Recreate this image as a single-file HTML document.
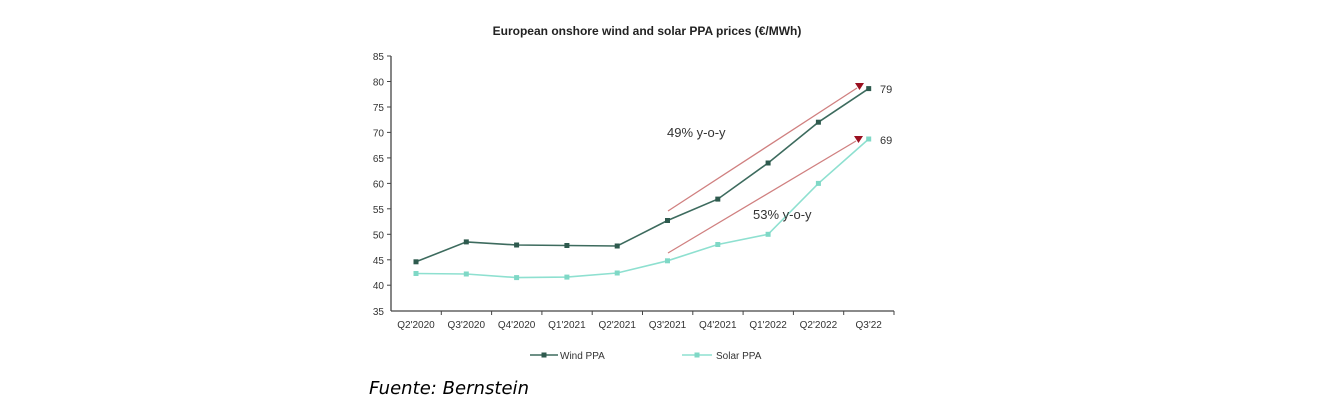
<!DOCTYPE html>
<html><head><meta charset="utf-8"><style>body{margin:0;background:#fff}svg{display:block}</style></head>
<body>
<svg width="1333" height="406" xmlns="http://www.w3.org/2000/svg" font-family="Liberation Sans, Arial, sans-serif">
<text x="647" y="35" text-anchor="middle" font-size="12" font-weight="bold" fill="#222">European onshore wind and solar PPA prices (€/MWh)</text>
<g stroke="#444" stroke-width="1.3" fill="none">
<line x1="391" y1="56" x2="391" y2="311"/>
<line x1="391" y1="311" x2="894" y2="311"/>
</g>
<g stroke="#444" stroke-width="1">
<line x1="387" y1="56" x2="391" y2="56"/><line x1="387" y1="81.5" x2="391" y2="81.5"/><line x1="387" y1="107" x2="391" y2="107"/><line x1="387" y1="132.4" x2="391" y2="132.4"/><line x1="387" y1="157.9" x2="391" y2="157.9"/><line x1="387" y1="183.4" x2="391" y2="183.4"/><line x1="387" y1="208.8" x2="391" y2="208.8"/><line x1="387" y1="234.3" x2="391" y2="234.3"/><line x1="387" y1="259.8" x2="391" y2="259.8"/><line x1="387" y1="285.2" x2="391" y2="285.2"/>
<line x1="441.3" y1="311" x2="441.3" y2="315"/><line x1="491.6" y1="311" x2="491.6" y2="315"/><line x1="541.9" y1="311" x2="541.9" y2="315"/><line x1="592.2" y1="311" x2="592.2" y2="315"/><line x1="642.5" y1="311" x2="642.5" y2="315"/><line x1="692.8" y1="311" x2="692.8" y2="315"/><line x1="743.1" y1="311" x2="743.1" y2="315"/><line x1="793.4" y1="311" x2="793.4" y2="315"/><line x1="843.7" y1="311" x2="843.7" y2="315"/><line x1="894" y1="311" x2="894" y2="315"/>
</g>
<g font-size="10" fill="#333" text-anchor="end">
<text x="384" y="60">85</text><text x="384" y="85.5">80</text><text x="384" y="111">75</text><text x="384" y="136.4">70</text><text x="384" y="161.9">65</text><text x="384" y="187.4">60</text><text x="384" y="212.8">55</text><text x="384" y="238.3">50</text><text x="384" y="263.8">45</text><text x="384" y="289.2">40</text><text x="384" y="315">35</text>
</g>
<g font-size="10" fill="#333" text-anchor="middle">
<text x="416" y="328">Q2'2020</text><text x="466.3" y="328">Q3'2020</text><text x="516.6" y="328">Q4'2020</text><text x="566.9" y="328">Q1'2021</text><text x="617.2" y="328">Q2'2021</text><text x="667.5" y="328">Q3'2021</text><text x="717.8" y="328">Q4'2021</text><text x="768.1" y="328">Q1'2022</text><text x="818.4" y="328">Q2'2022</text><text x="868.7" y="328">Q3'22</text>
</g>
<g stroke="#d08080" stroke-width="1.3">
<line x1="668" y1="211" x2="857" y2="88"/>
<line x1="668" y1="253" x2="856" y2="141"/>
</g>
<polygon points="855,83 864,83 859.5,90" fill="#9a1020"/>
<polygon points="854,136 863,136 858.5,143" fill="#9a1020"/>
<polyline fill="none" stroke="#3d6b5e" stroke-width="1.6" points="416,261.8 466.3,241.9 516.6,245 566.9,245.5 617.2,246 667.5,220.5 717.8,199.1 768.1,163 818.4,122.2 868.7,88.6"/>
<g fill="#2e5a4e">
<rect x="413.5" y="259.3" width="5" height="5"/><rect x="463.8" y="239.4" width="5" height="5"/><rect x="514.1" y="242.5" width="5" height="5"/><rect x="564.4" y="243" width="5" height="5"/><rect x="614.7" y="243.5" width="5" height="5"/><rect x="665" y="218" width="5" height="5"/><rect x="715.3" y="196.6" width="5" height="5"/><rect x="765.6" y="160.5" width="5" height="5"/><rect x="815.9" y="119.7" width="5" height="5"/><rect x="866.2" y="86.1" width="5" height="5"/>
</g>
<polyline fill="none" stroke="#8ee0d0" stroke-width="1.6" points="416,273.5 466.3,274 516.6,277.6 566.9,277.1 617.2,273 667.5,260.8 717.8,244.5 768.1,234.3 818.4,183.4 868.7,139"/>
<g fill="#7fd8c6">
<rect x="413.5" y="271" width="5" height="5"/><rect x="463.8" y="271.5" width="5" height="5"/><rect x="514.1" y="275.1" width="5" height="5"/><rect x="564.4" y="274.6" width="5" height="5"/><rect x="614.7" y="270.5" width="5" height="5"/><rect x="665" y="258.3" width="5" height="5"/><rect x="715.3" y="242" width="5" height="5"/><rect x="765.6" y="231.8" width="5" height="5"/><rect x="815.9" y="180.9" width="5" height="5"/><rect x="866.2" y="136.5" width="5" height="5"/>
</g>
<text x="880" y="93" font-size="11" fill="#333">79</text>
<text x="880" y="144" font-size="11" fill="#333">69</text>
<text x="667" y="137" font-size="13" fill="#333">49% y-o-y</text>
<text x="753" y="219" font-size="13" fill="#333">53% y-o-y</text>
<line x1="530" y1="355" x2="558" y2="355" stroke="#3d6b5e" stroke-width="1.5"/>
<rect x="541.5" y="352.5" width="5" height="5" fill="#2e5a4e"/>
<text x="560" y="359" font-size="10" fill="#333">Wind PPA</text>
<line x1="682" y1="355" x2="712" y2="355" stroke="#8ee0d0" stroke-width="1.5"/>
<rect x="694.5" y="352.5" width="5" height="5" fill="#7fd8c6"/>
<text x="716" y="359" font-size="10" fill="#333">Solar PPA</text>
<text x="369" y="394" font-size="18" font-style="italic" fill="#000" font-family="DejaVu Sans, sans-serif" textLength="160">Fuente: Bernstein</text>
</svg>
</body></html>
